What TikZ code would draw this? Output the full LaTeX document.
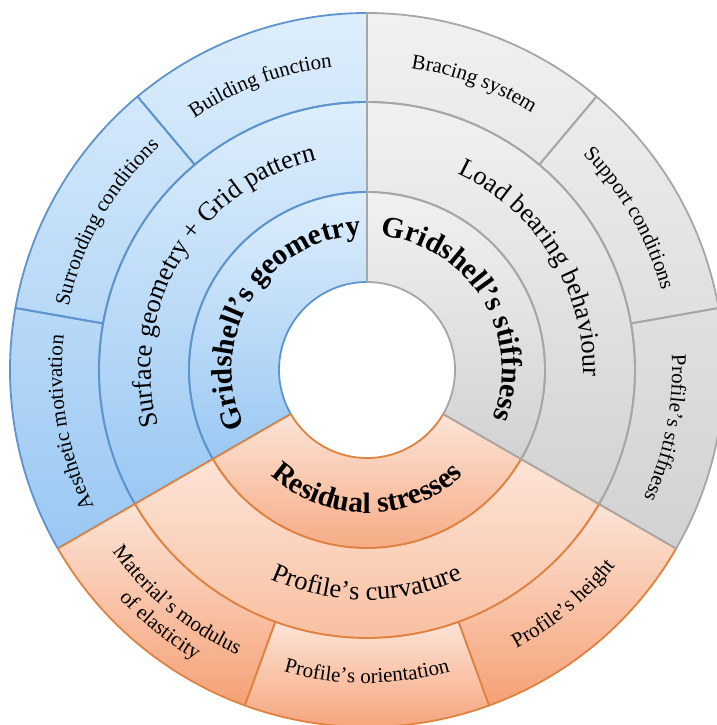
\documentclass[tikz,border=0pt]{standalone}
\usepackage{fontspec}
\setmainfont{Liberation Serif}
\usetikzlibrary{decorations.text}

\definecolor{bluetop}{HTML}{DEEEFC}
\definecolor{bluebot}{HTML}{9AC8F3}
\definecolor{blueline}{HTML}{5D94CE}
\definecolor{orgtop}{HTML}{FDE4D7}
\definecolor{orgbot}{HTML}{F5A176}
\definecolor{orgmidbot}{HTML}{F8B896}
\definecolor{orgline}{HTML}{E0823F}
\definecolor{graytop}{HTML}{F1F1F1}
\definecolor{graybot}{HTML}{D2D2D2}
\definecolor{grayline}{HTML}{A6A6A6}

\tikzset{
  seg/.style={line width=1.8pt, line join=round},
  blueedge/.style={seg, draw=blueline},
  grayedge/.style={seg, draw=grayline},
  orgarea/.style={seg, draw=orgline, top color=orgtop, bottom color=orgbot},
  orgmidarea/.style={seg, draw=orgline, top color=orgtop, bottom color=orgmidbot},
}

% one annular sector: style, start angle, end angle, inner radius, outer radius
\newcommand\ringseg[5]{%
  \path[#1] (#2:#4) arc[start angle=#2, end angle=#3, radius=#4]
    -- (#3:#5) arc[start angle=#3, end angle=#2, radius=#5] -- cycle;
}
% fill of a sector with a vertical gradient spread over its whole ring
% top colour, bottom colour, start angle, end angle, inner radius, outer radius
\newcommand\ringfill[6]{%
  \begin{scope}
    \clip (#3:#5) arc[start angle=#3, end angle=#4, radius=#5]
      -- (#4:#6) arc[start angle=#4, end angle=#3, radius=#6] -- cycle;
    \shade[top color=#1, bottom color=#2] ({-#6},{-0.5*#6}) rectangle (#6,#6);
  \end{scope}
}
% text on a clockwise arc (letters point outward): centre angle, baseline radius, font, text
\newcommand\cwlabel[4]{%
  \path[decorate, decoration={text along path, text align=center, text={|#3|#4}}]
    ({#1+80}:#2) arc[start angle={#1+80}, end angle={#1-80}, radius=#2];
}
% text on a counter-clockwise arc (letters point inward)
\newcommand\ccwlabel[4]{%
  \path[decorate, decoration={text along path, text align=center, text={|#3|#4}}]
    ({#1-80}:#2) arc[start angle={#1-80}, end angle={#1+80}, radius=#2];
}

\newcommand\outerfont{\fontsize{21}{25}\selectfont}
\newcommand\midfont{\fontsize{26.5}{30}\selectfont}
\newcommand\innerfont{\bfseries\fontsize{29.5}{34}\selectfont}

\begin{document}
\begin{tikzpicture}[x=1pt, y=1pt]
\useasboundingbox (-367,-355) rectangle (349,370);

% radii of the rings
\def\ra{88}\def\rb{178}\def\rc{268}\def\rd{357}

% geometry sector
\ringfill{bluetop}{bluebot}{90}{210}{\ra}{\rb}
\ringfill{bluetop}{bluebot}{90}{210}{\rb}{\rc}
\ringfill{bluetop}{bluebot}{90}{210}{\rc}{\rd}
\ringseg{blueedge}{90}{210}{\ra}{\rb}
\ringseg{blueedge}{90}{210}{\rb}{\rc}
\ringseg{blueedge}{90}{130}{\rc}{\rd}
\ringseg{blueedge}{130}{170}{\rc}{\rd}
\ringseg{blueedge}{170}{210}{\rc}{\rd}

% residual stress sector
\ringseg{orgarea}{210}{330}{\ra}{\rb}
\ringseg{orgmidarea}{210}{330}{\rb}{\rc}
\ringseg{orgarea}{210}{250}{\rc}{\rd}
\ringseg{orgarea}{250}{290}{\rc}{\rd}
\ringseg{orgarea}{290}{330}{\rc}{\rd}

% stiffness sector
\ringfill{graytop}{graybot}{-30}{90}{\ra}{\rb}
\ringfill{graytop}{graybot}{-30}{90}{\rb}{\rc}
\ringfill{graytop}{graybot}{-30}{90}{\rc}{\rd}
\ringseg{grayedge}{-30}{90}{\ra}{\rb}
\ringseg{grayedge}{-30}{90}{\rb}{\rc}
\ringseg{grayedge}{50}{90}{\rc}{\rd}
\ringseg{grayedge}{10}{50}{\rc}{\rd}
\ringseg{grayedge}{-30}{10}{\rc}{\rd}

% labels, geometry
\cwlabel{110.5}{305}{\outerfont}{Building function}
\cwlabel{150.4}{305}{\outerfont}{Surronding conditions}
\cwlabel{190}{305}{\outerfont}{Aesthetic motivation}
\cwlabel{149.2}{216}{\midfont}{Surface geometry + Grid pattern}
\cwlabel{148.7}{135}{\innerfont}{Gridshell’s geometry}

% labels, stiffness
\cwlabel{69.5}{305}{\outerfont}{Bracing system}
\cwlabel{30}{305}{\outerfont}{Support conditions}
\cwlabel{-11}{305}{\outerfont}{Profile’s stiffness}
\cwlabel{31.8}{216}{\midfont}{Load bearing behaviour}
\cwlabel{31.5}{135}{\innerfont}{Gridshell’s stiffness}

% labels, residual stresses
\ccwlabel{270}{143}{\innerfont}{Residual stresses}
\ccwlabel{270}{230}{\midfont}{Profile’s curvature}
\ccwlabel{230.5}{313}{\outerfont}{Material’s modulus}
\ccwlabel{231}{337}{\outerfont}{of elasticity}
\ccwlabel{270}{313}{\outerfont}{Profile’s orientation}
\ccwlabel{310}{316}{\outerfont}{Profile’s height}
\end{tikzpicture}
\end{document}
